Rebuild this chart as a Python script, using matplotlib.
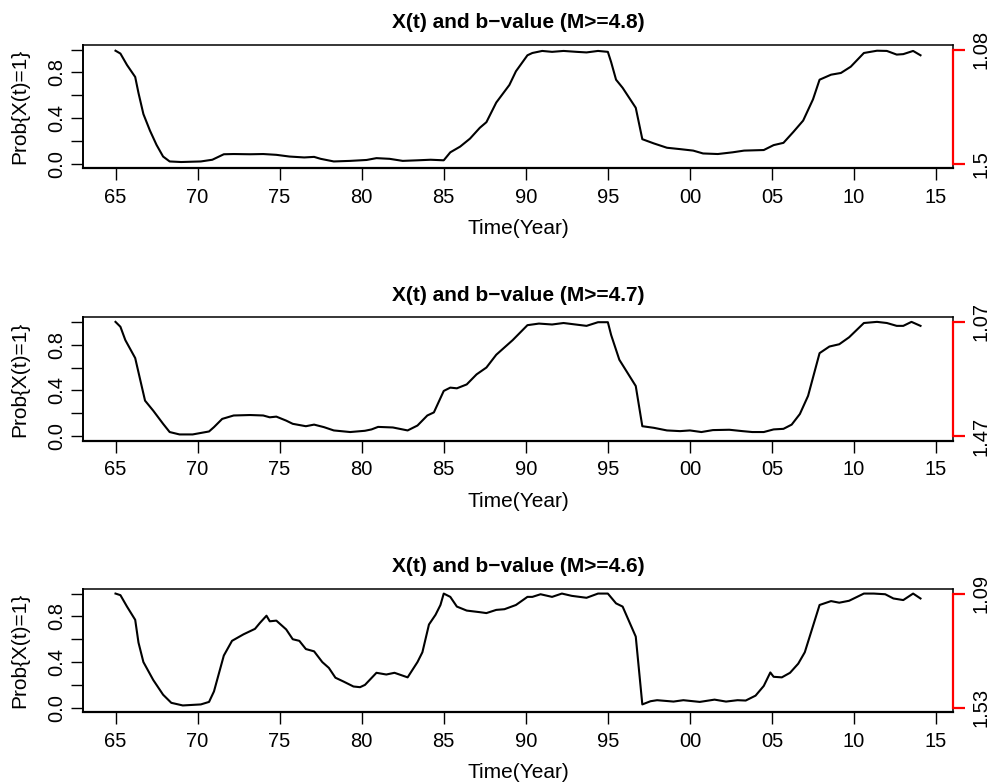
import matplotlib
matplotlib.use("Agg")
import matplotlib.pyplot as plt

plt.rcParams["font.family"] = ["Liberation Sans", "DejaVu Sans"]

# years since 1900 and Prob{X(t)=1}
t48 = [65.0, 65.3, 65.7, 66.2, 66.4, 66.7, 67.1, 67.5, 67.9, 68.3, 69.0, 70.2, 70.9, 71.6,
       72.2, 73.2, 74.0, 74.8, 75.6, 76.5, 77.1, 77.5, 78.3, 79.3, 80.3, 80.9, 81.7, 82.5,
       83.4, 84.2, 85.0, 85.4, 86.0, 86.6, 87.2, 87.6, 88.2, 89.0, 89.4, 90.1, 90.4, 91.0,
       91.6, 92.3, 93.1, 93.7, 94.4, 95.0, 95.2, 95.5, 95.9, 96.7, 97.1, 97.8, 98.6, 99.4,
       100.2, 100.8, 101.7, 102.6, 103.3, 104.5, 105.1, 105.7, 106.3, 106.9, 107.5, 107.9,
       108.6, 109.2, 109.8, 110.6, 111.4, 112.0, 112.6, 113.0, 113.6, 114.05]
p48 = [0.99, 0.965, 0.865, 0.76, 0.62, 0.435, 0.29, 0.165, 0.063, 0.02, 0.015, 0.02, 0.035,
       0.083, 0.085, 0.083, 0.085, 0.078, 0.063, 0.055, 0.06, 0.043, 0.02, 0.025, 0.033,
       0.049, 0.043, 0.025, 0.03, 0.035, 0.03, 0.1, 0.15, 0.22, 0.315, 0.364, 0.536, 0.69,
       0.81, 0.95, 0.97, 0.988, 0.98, 0.988, 0.98, 0.975, 0.988, 0.98, 0.89, 0.736, 0.665,
       0.49, 0.215, 0.178, 0.14, 0.128, 0.115, 0.09, 0.085, 0.1, 0.115, 0.12, 0.163, 0.183,
       0.278, 0.378, 0.564, 0.736, 0.78, 0.795, 0.85, 0.97, 0.99, 0.988, 0.956, 0.96, 0.988,
       0.95]

t47 = [65.0, 65.3, 65.6, 66.2, 66.5, 66.8, 67.3, 67.9, 68.3, 68.9, 69.7, 70.7, 71.0, 71.5,
       72.2, 73.2, 74.0, 74.4, 74.8, 75.4, 75.8, 76.6, 77.1, 77.7, 78.3, 79.3, 80.2, 80.6,
       81.0, 81.9, 82.8, 83.4, 84.0, 84.4, 85.0, 85.4, 85.8, 86.4, 87.0, 87.6, 88.2, 89.2,
       90.1, 90.8, 91.6, 92.3, 93.7, 94.4, 95.0, 95.2, 95.7, 96.7, 97.1, 97.8, 98.6, 99.4,
       100.0, 100.7, 101.4, 102.4, 103.2, 103.8, 104.5, 105.1, 105.7, 106.2, 106.7, 107.2,
       107.9, 108.5, 109.1, 109.7, 110.6, 111.4, 112.0, 112.6, 113.0, 113.5, 114.05]
p47 = [1.0, 0.957, 0.84, 0.683, 0.496, 0.31, 0.222, 0.107, 0.035, 0.014, 0.014, 0.04, 0.078,
       0.15, 0.18, 0.184, 0.18, 0.164, 0.17, 0.135, 0.107, 0.086, 0.1, 0.078, 0.049, 0.035,
       0.046, 0.058, 0.08, 0.075, 0.049, 0.092, 0.18, 0.207, 0.395, 0.424, 0.418, 0.452, 0.54,
       0.6, 0.712, 0.84, 0.971, 0.985, 0.977, 0.99, 0.965, 0.997, 0.997, 0.885, 0.668, 0.438,
       0.086, 0.072, 0.049, 0.043, 0.049, 0.035, 0.052, 0.055, 0.043, 0.035, 0.035, 0.058,
       0.063, 0.1, 0.193, 0.352, 0.726, 0.784, 0.804, 0.865, 0.99, 1.0, 0.99, 0.965, 0.965,
       1.0, 0.965]

t46 = [65.0, 65.3, 65.7, 66.2, 66.4, 66.7, 67.3, 67.9, 68.4, 69.1, 70.2, 70.7, 71.0, 71.6,
       72.1, 72.8, 73.5, 73.8, 74.2, 74.4, 74.8, 75.4, 75.8, 76.2, 76.6, 77.1, 77.6, 78.0,
       78.4, 78.9, 79.5, 79.9, 80.2, 80.9, 81.5, 82.0, 82.8, 83.4, 83.7, 84.1, 84.5, 84.8,
       85.0, 85.4, 85.8, 86.4, 87.2, 87.6, 88.2, 88.7, 89.4, 90.1, 90.4, 90.9, 91.6, 92.2,
       92.8, 93.7, 94.4, 95.0, 95.5, 95.9, 96.7, 97.1, 97.6, 98.0, 99.0, 99.6, 100.6, 101.5,
       102.2, 102.9, 103.4, 104.0, 104.5, 104.9, 105.1, 105.6, 106.1, 106.6, 107.0, 107.9,
       108.6, 109.1, 109.7, 110.6, 111.2, 111.9, 112.4, 113.0, 113.6, 114.05]
p46 = [1.0, 0.986, 0.886, 0.77, 0.571, 0.4, 0.243, 0.114, 0.043, 0.02, 0.029, 0.051, 0.143,
       0.457, 0.586, 0.643, 0.691, 0.743, 0.806, 0.757, 0.763, 0.686, 0.6, 0.586, 0.514,
       0.494, 0.4, 0.349, 0.263, 0.229, 0.186, 0.18, 0.2, 0.306, 0.291, 0.306, 0.266, 0.4,
       0.486, 0.729, 0.814, 0.9, 1.0, 0.971, 0.886, 0.851, 0.837, 0.829, 0.857, 0.863, 0.9,
       0.971, 0.971, 0.994, 0.971, 1.0, 0.98, 0.963, 1.0, 1.0, 0.914, 0.886, 0.623, 0.029,
       0.057, 0.066, 0.054, 0.066, 0.051, 0.071, 0.054, 0.066, 0.063, 0.106, 0.191, 0.309,
       0.271, 0.266, 0.306, 0.386, 0.486, 0.9, 0.934, 0.92, 0.937, 1.0, 1.0, 0.994, 0.957,
       0.943, 1.0, 0.957]

mags = ["4.8", "4.7", "4.6"]
b_top = ["1.08", "1.07", "1.09"]     # b-value at Prob = 1
b_bottom = ["1.5", "1.47", "1.53"]   # b-value at Prob = 0
year_ticks = [1965, 1970, 1975, 1980, 1985, 1990, 1995, 2000, 2005, 2010, 2015]
year_labels = ["65", "70", "75", "80", "85", "90", "95", "00", "05", "10", "15"]

series = [(t48, p48), (t47, p47), (t46, p46)]
tops = [45.0, 317.3, 589.0]          # pixel top of each plot box
W, H = 991, 784
FS_TICK, FS_LAB, FS_MAIN = 14.5, 15, 15

fig = plt.figure(figsize=(W / 100, H / 100), dpi=100)
for i, (t, p) in enumerate(series):
    x = [1900 + v for v in t]
    ax = fig.add_axes([83.3 / W, 1 - (tops[i] + 123.3) / H, (952.7 - 83.3) / W, 123.3 / H])
    ax.plot(x, p, color="black", lw=1.5)
    pad = 0.04 * (max(x) - min(x))
    ax.set_xlim(min(x) - pad, max(x) + pad)
    ax.set_ylim(-0.04, 1.04)
    ax.set_xticks(year_ticks)
    ax.set_xticklabels(year_labels)
    ax.set_yticks([0, 0.2, 0.4, 0.6, 0.8, 1.0])
    ax.set_yticklabels(["0.0", "", "0.4", "", "0.8", ""], rotation=90, va="center")
    ax.tick_params(direction="out", length=8.3, width=1.0, labelsize=FS_TICK)
    ax.tick_params(axis="x", pad=6)
    ax.tick_params(axis="y", pad=4)
    for s in ax.spines.values():
        s.set_linewidth(1.1)
    ax.spines["bottom"].set_linewidth(1.6)
    ax.spines["left"].set_linewidth(1.4)
    ax.set_title(f"X(t) and b\u2212value (M>={mags[i]})", fontsize=FS_MAIN,
                 fontweight="bold", pad=12)
    ax.set_xlabel("Time(Year)", fontsize=FS_LAB)
    ax.xaxis.set_label_coords(0.5, -0.49)
    ax.xaxis.label.set_va("center")
    ax.set_ylabel("Prob{X(t)=1}", fontsize=FS_LAB)
    ax.yaxis.set_label_coords(-0.0728, 0.5)
    ax.yaxis.label.set_va("center")

    # red b-value axis on the right, only between the two ticks like R's axis()
    bx = ax.twinx()
    bx.set_ylim(ax.get_ylim())
    for name in ("top", "bottom", "left"):
        bx.spines[name].set_visible(False)
    bx.spines["right"].set_color("red")
    bx.spines["right"].set_linewidth(1.6)
    bx.spines["right"].set_bounds(0, 1)
    bx.set_yticks([0, 1])
    bx.set_yticklabels([b_bottom[i], b_top[i]], rotation=90, va="center")
    bx.tick_params(axis="y", direction="out", length=8.3, width=1.6, color="red",
                   labelcolor="black", labelsize=FS_TICK, pad=5)

fig.savefig("out.png", dpi=100)
